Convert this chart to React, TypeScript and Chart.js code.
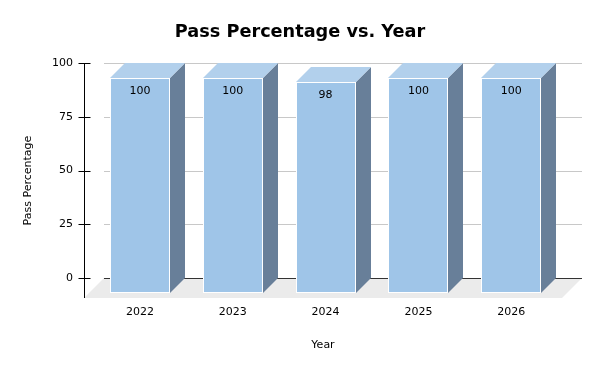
import { useEffect, useRef } from 'react';
import { Chart, registerables } from 'chart.js';

Chart.register(...registerables);

const years = ['2022', '2023', '2024', '2025', '2026'];
const passPercentage = [100, 100, 98, 100, 100];
const yTickValues = [0, 25, 50, 75, 100];

const FONT = 'DejaVu Sans';
const DEPTH = 15;

const threeD = {
  id: 'threeD',
  beforeDatasetsDraw(chart: any) {
    const { ctx, chartArea: ca, scales } = chart;
    const y = scales.y;
    const floor = ca.bottom - y.getPixelForValue(0);
    ctx.save();
    ctx.fillStyle = '#ebebeb';
    ctx.beginPath();
    ctx.moveTo(ca.left, ca.bottom);
    ctx.lineTo(ca.right, ca.bottom);
    ctx.lineTo(ca.right + floor, ca.bottom - floor);
    ctx.lineTo(ca.left + floor, ca.bottom - floor);
    ctx.closePath();
    ctx.fill();
    ctx.lineWidth = 1;
    yTickValues.forEach((v) => {
      const py = Math.round(y.getPixelForValue(v)) + 0.5;
      ctx.strokeStyle = v === 0 ? '#333333' : '#c8c8c8';
      ctx.beginPath();
      ctx.moveTo(ca.left + floor, py);
      ctx.lineTo(ca.right + floor, py);
      ctx.stroke();
    });
    ctx.strokeStyle = '#000';
    const ax = Math.round(ca.left) + 0.5;
    ctx.beginPath();
    ctx.moveTo(ax, ca.top);
    ctx.lineTo(ax, ca.bottom);
    ctx.stroke();
    yTickValues.forEach((v) => {
      const py = Math.round(y.getPixelForValue(v)) + 0.5;
      ctx.beginPath();
      ctx.moveTo(ax - 6, py);
      ctx.lineTo(ax + 6, py);
      ctx.stroke();
    });
    ctx.restore();
  },
  afterDatasetsDraw(chart: any) {
    const { ctx } = chart;
    const meta = chart.getDatasetMeta(0);
    const d = DEPTH;
    ctx.save();
    meta.data.forEach((el: any, i: number) => {
      const { x, y, base, width } = el.getProps(['x', 'y', 'base', 'width'], true);
      const L = Math.round(x - width / 2);
      const R = Math.round(x + width / 2);
      const T = Math.round(y);
      const B = Math.round(base);
      // side face
      ctx.fillStyle = '#687f99';
      ctx.beginPath();
      ctx.moveTo(R, T + d);
      ctx.lineTo(R + d, T);
      ctx.lineTo(R + d, B);
      ctx.lineTo(R, B + d);
      ctx.closePath();
      ctx.fill();
      // top face
      ctx.fillStyle = '#b2d0ec';
      ctx.beginPath();
      ctx.moveTo(L, T + d);
      ctx.lineTo(R, T + d);
      ctx.lineTo(R + d, T);
      ctx.lineTo(L + d, T);
      ctx.closePath();
      ctx.fill();
      // front face
      ctx.fillStyle = '#9fc5e8';
      ctx.fillRect(L, T + d, R - L, B - T);
      ctx.strokeStyle = '#ffffff';
      ctx.lineWidth = 1;
      ctx.strokeRect(L + 0.5, T + d + 0.5, R - L - 1, B - T - 1);
      // value label
      ctx.fillStyle = '#000';
      ctx.font = `11px "${FONT}"`;
      ctx.textAlign = 'center';
      ctx.textBaseline = 'middle';
      ctx.fillText(String(passPercentage[i]), x, T + d + 13.5);
    });
    ctx.restore();
  },
};

export default function App() {
  const ref = useRef<HTMLCanvasElement>(null);
  useEffect(() => {
    document.body.style.margin = '0';
    const chart = new Chart(ref.current as HTMLCanvasElement, {
      type: 'bar',
      data: {
        datasets: [
          {
            data: years.map((_, i) => ({ x: i, y: passPercentage[i] })) as any,
            backgroundColor: 'rgba(0,0,0,0)',
            borderWidth: 0,
            barThickness: 60,
          },
        ],
      },
      options: {
        responsive: false,
        animation: false,
        devicePixelRatio: 1,
        layout: { padding: 0 },
        plugins: {
          legend: { display: false },
          tooltip: { enabled: false },
          title: {
            display: true,
            text: 'Pass Percentage vs. Year',
            color: '#000',
            font: { family: FONT, size: 17.7, weight: 'bold' },
            padding: { top: 21.6, bottom: 20.2 },
          },
        },
        scales: {
          x: {
            type: 'linear',
            min: -0.6034,
            max: 4.547,
            offset: false,
            grid: { display: false, drawTicks: false },
            border: { display: false },
            afterBuildTicks: (s: any) => {
              s.ticks = years.map((_, i) => ({ value: i }));
            },
            ticks: {
              color: '#000',
              font: { family: FONT, size: 11 },
              padding: 8,
              maxRotation: 0,
              autoSkip: false,
              callback: (v: any) => years[Math.round(Number(v))] ?? '',
            },
            title: {
              display: true,
              text: 'Year',
              color: '#000',
              font: { family: FONT, size: 11 },
              padding: { top: 0, bottom: 19.4 },
            },
            afterFit: (s: any) => {
              s.height = 73;
            },
          },
          y: {
            type: 'linear',
            min: -9.302,
            max: 100,
            grid: { display: false, drawTicks: false },
            border: { display: false },
            afterBuildTicks: (s: any) => {
              s.ticks = yTickValues.map((v) => ({ value: v }));
            },
            ticks: {
              color: '#000',
              font: { family: FONT, size: 11 },
              padding: 11,
            },
            title: {
              display: true,
              text: 'Pass Percentage',
              color: '#000',
              font: { family: FONT, size: 11 },
              padding: { top: 21.4, bottom: 0 },
            },
            afterFit: (s: any) => {
              s.width = 84;
            },
          },
          yRight: {
            type: 'linear',
            position: 'right',
            display: true,
            min: -9.302,
            max: 100,
            grid: { display: false, drawTicks: false },
            border: { display: false },
            ticks: { display: false },
            afterFit: (s: any) => {
              s.width = 38;
            },
          },
        },
      } as any,
      plugins: [threeD],
    });
    return () => chart.destroy();
  }, []);
  return (
    <div style={{ width: 600, height: 371 }}>
      <canvas ref={ref} width={600} height={371} style={{ display: 'block' }} />
    </div>
  );
}
